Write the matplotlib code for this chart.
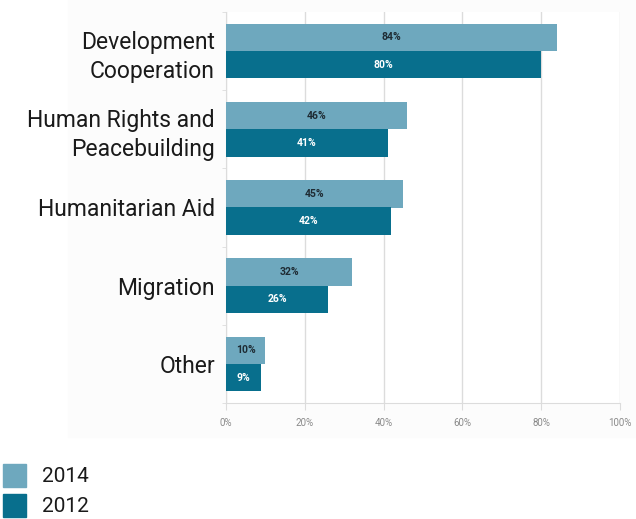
import numpy as np
import matplotlib
matplotlib.use("Agg")
import matplotlib.pyplot as plt
from matplotlib.patches import Rectangle

categories = ["Development\nCooperation", "Human Rights and\nPeacebuilding",
              "Humanitarian Aid", "Migration", "Other"]
share_2014 = [84, 46, 45, 32, 10]
share_2012 = [80, 41, 42, 26, 9]
x_ticks = [0, 20, 40, 60, 80, 100]
x_tick_labels = ["0%", "20%", "40%", "60%", "80%", "100%"]
years = ["2014", "2012"]

LIGHT = "#6ea8be"
DARK = "#086f8d"
GRID = "#dcdcdc"

plt.rcParams["font.family"] = ["Roboto", "DejaVu Sans"]

W, H = 636, 519
fig = plt.figure(figsize=(W / 100, H / 100), dpi=100)
# faint backdrop behind the chart block
fig.patches.append(Rectangle((68 / W, 1 - 437 / H), 1 - 68 / W, 437 / H,
                             transform=fig.transFigure, color="#fcfcfc", zorder=-1))
ax = fig.add_axes([226 / W, 1 - 403 / H, 394 / W, 391 / H])
ax.set_facecolor("white")

y = np.arange(len(categories))
h = 0.35
ax.barh(y - h / 2, share_2014, height=h, color=LIGHT, zorder=3)
ax.barh(y + h / 2, share_2012, height=h, color=DARK, zorder=3)

for yi, v in zip(y, share_2014):
    ax.text(v / 2, yi - h / 2, f"{v}%", ha="center", va="center",
            fontsize=7.5, fontweight="bold", color="#1e2b33", zorder=4)
for yi, v in zip(y, share_2012):
    ax.text(v / 2, yi + h / 2, f"{v}%", ha="center", va="center",
            fontsize=7.5, fontweight="bold", color="white", zorder=4)

ax.set_xlim(0, 100)
ax.set_ylim(len(categories) - 0.5, -0.5)
ax.set_xticks(x_ticks)
ax.set_xticklabels(x_tick_labels, fontsize=7, color="#8a8a8a")
ax.set_yticks(y)
ax.set_yticklabels(categories, fontsize=16.5, color="#1a1a1a", linespacing=1.35)
ax.set_yticks(np.arange(len(categories) + 1) - 0.5, minor=True)
ax.tick_params(axis="y", which="major", length=0, pad=8)
ax.tick_params(axis="y", which="minor", length=3, color=GRID)
ax.tick_params(axis="x", length=5, color=GRID, pad=6)
ax.grid(axis="x", color=GRID, lw=1, zorder=0)
for s in ["top", "right"]:
    ax.spines[s].set_visible(False)
for s in ["left", "bottom"]:
    ax.spines[s].set_color(GRID)

# legend: colour squares with year labels, bottom left
for i, (yr, col) in enumerate(zip(years, [LIGHT, DARK])):
    top = 464 + 30 * i
    fig.patches.append(Rectangle((3 / W, 1 - (top + 23) / H), 23 / W, 23 / H,
                                 transform=fig.transFigure, color=col))
    fig.text(42 / W, 1 - (top + 12) / H, yr, fontsize=15, color="#1a1a1a",
             ha="left", va="center")

fig.savefig("out.png", dpi=100)
